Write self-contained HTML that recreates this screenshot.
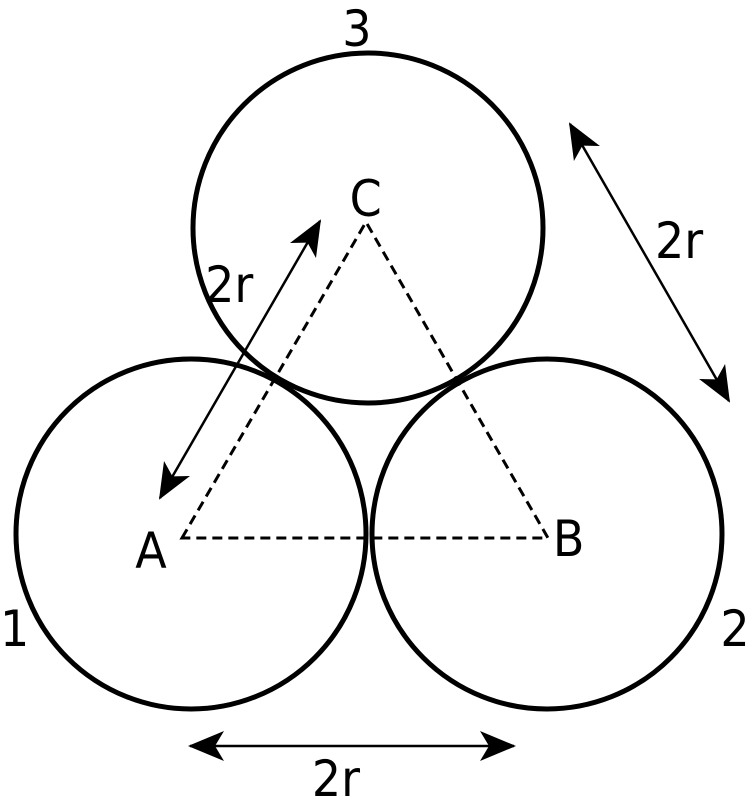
<!DOCTYPE html>
<html><head><style>
html,body{margin:0;padding:0;background:#fff;}
svg{display:block;}
text{font-family:"DejaVu Sans","Liberation Sans",sans-serif;fill:#000;}
</style></head><body>
<svg width="753" height="800" viewBox="0 0 753 800" xmlns="http://www.w3.org/2000/svg">
<defs>
<marker id="ah" viewBox="0 0 36 32" refX="34" refY="16" markerWidth="36" markerHeight="32" markerUnits="userSpaceOnUse" orient="auto-start-reverse">
<path d="M0,1 L36,16 L0,31 L9,16 Z" fill="#000"/>
</marker>
</defs>
<g fill="none" stroke="#000" stroke-width="5">
<circle cx="191" cy="534" r="175"/>
<circle cx="547" cy="534" r="175"/>
<circle cx="368" cy="228" r="175"/>
</g>
<path d="M182,538 L366,222 L548,538 Z" fill="none" stroke="#000" stroke-width="3" stroke-dasharray="10,6"/>
<g stroke="#000" stroke-width="2.5" marker-start="url(#ah)" marker-end="url(#ah)">
<line x1="160" y1="498" x2="320" y2="221"/>
<line x1="570" y1="124" x2="729" y2="401"/>
<line x1="190" y1="746" x2="514" y2="746"/>
</g>
<g font-size="50" transform="scale(0.92,1)">
<text x="372" y="46">3</text>
<text x="380" y="216">C</text>
<text x="147" y="568">A</text>
<text x="601" y="556">B</text>
<text x="0" y="646">1</text>
<text x="783" y="646">2</text>
<text x="223" y="302">2r</text>
<text x="712" y="258">2r</text>
<text x="339" y="796">2r</text>
</g>
</svg>
</body></html>
